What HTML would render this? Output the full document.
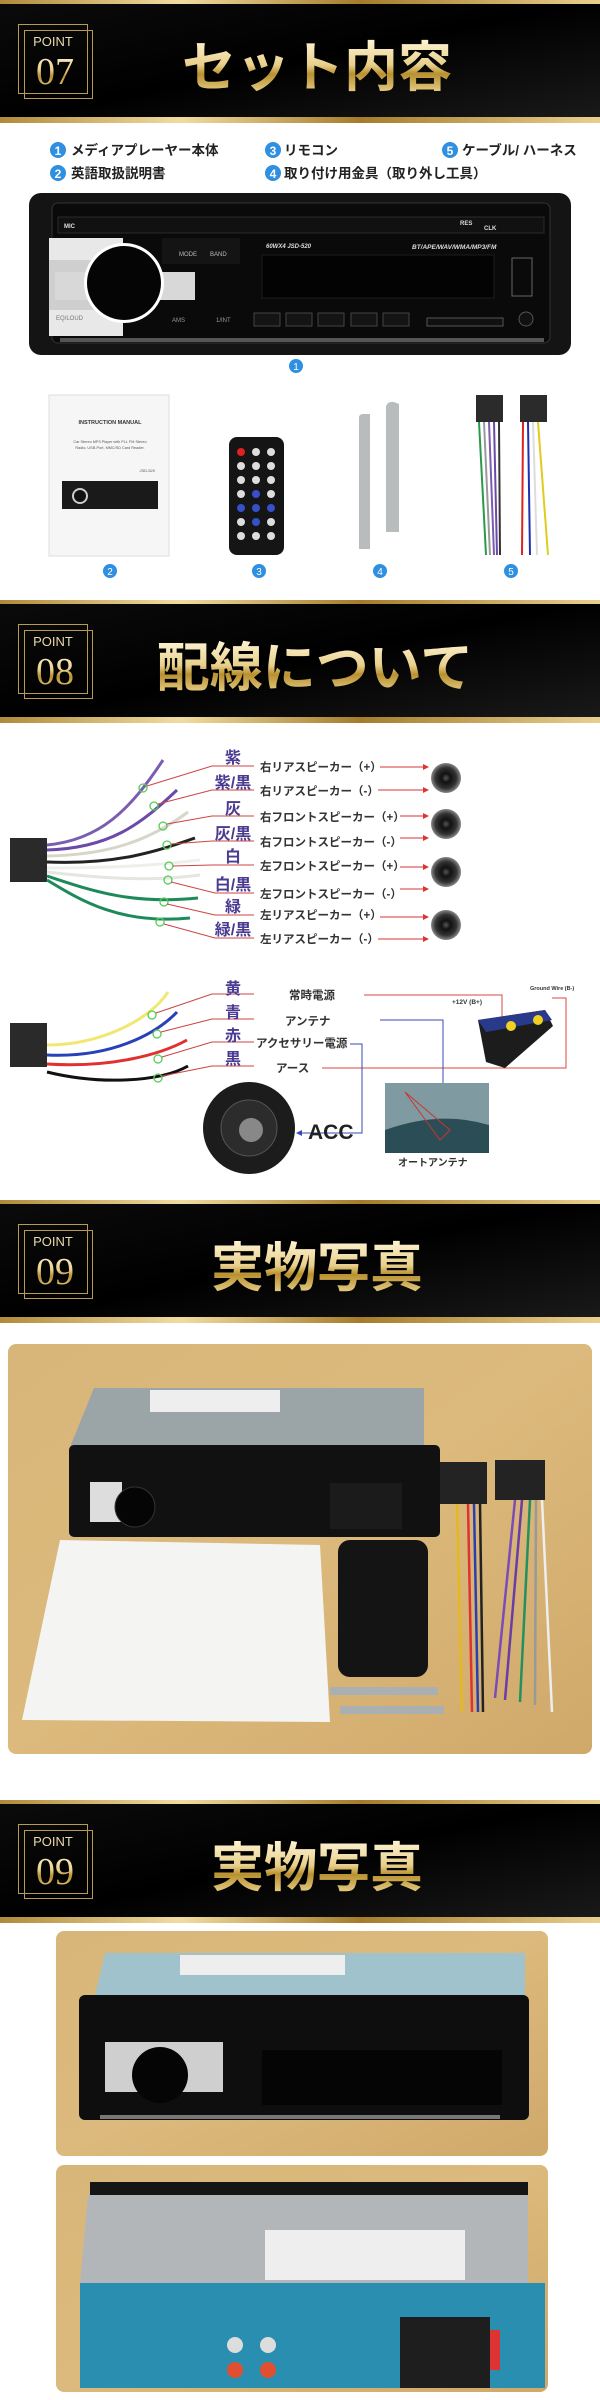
<!DOCTYPE html>
<html><head><meta charset="utf-8"><style>
html,body{margin:0;padding:0;background:#fff}
svg{display:block}
text{font-family:"Liberation Sans","Noto Sans CJK JP",sans-serif}
.jp{font-family:"Liberation Sans","Noto Sans CJK JP",sans-serif;font-weight:700}
</style></head><body>
<svg width="600" height="2400" viewBox="0 0 600 2400" xmlns="http://www.w3.org/2000/svg">
<defs>
<linearGradient id="gold" x1="0" y1="0" x2="0" y2="1">
<stop offset="0" stop-color="#fff6d8"/><stop offset="0.45" stop-color="#e8cf8a"/><stop offset="0.6" stop-color="#b8902f"/><stop offset="1" stop-color="#f3df9f"/></linearGradient>
<linearGradient id="goldh" x1="0" y1="0" x2="1" y2="0">
<stop offset="0" stop-color="#b08a3a"/><stop offset="0.3" stop-color="#f1dca0"/><stop offset="0.6" stop-color="#a57c2c"/><stop offset="1" stop-color="#e9cf8e"/></linearGradient>
<linearGradient id="hdr" x1="0" y1="0" x2="1" y2="1">
<stop offset="0" stop-color="#0b0b0b"/><stop offset="0.5" stop-color="#000"/><stop offset="1" stop-color="#1a1a1a"/></linearGradient>
<linearGradient id="wood" x1="0" y1="0" x2="1" y2="1">
<stop offset="0" stop-color="#d8b679"/><stop offset="0.5" stop-color="#dcb97c"/><stop offset="1" stop-color="#cfa96a"/></linearGradient>
<radialGradient id="spk"><stop offset="0" stop-color="#555"/><stop offset="0.3" stop-color="#111"/><stop offset="0.7" stop-color="#333"/><stop offset="1" stop-color="#888"/></radialGradient>
<marker id="ar" markerWidth="6" markerHeight="6" refX="5" refY="3" orient="auto"><path d="M0,0 L6,3 L0,6 z" fill="#d33"/></marker>
<marker id="ab" markerWidth="6" markerHeight="6" refX="5" refY="3" orient="auto"><path d="M0,0 L6,3 L0,6 z" fill="#3848b8"/></marker>
<g id="hd">
<rect x="0" y="0" width="600" height="122" fill="url(#hdr)"/>
<rect x="0" y="0" width="600" height="4" fill="url(#goldh)"/>
<rect x="0" y="117" width="600" height="6" fill="url(#goldh)"/>
<rect x="18.5" y="24.5" width="69" height="69" fill="none" stroke="#b89a55" stroke-width="1"/>
<rect x="24.5" y="30.5" width="68" height="68" fill="none" stroke="#b89a55" stroke-width="1"/>
<text x="53" y="46" font-size="13" fill="#e8d9aa" text-anchor="middle" style="font-family:'Liberation Sans',sans-serif">POINT</text>
</g>
</defs>

<!-- ===== Section 1 ===== -->
<use href="#hd" x="0" y="0"/>
<text x="55" y="84" font-size="38" fill="url(#gold)" text-anchor="middle" style="font-family:'Liberation Serif',serif">07</text>
<text x="317" y="86" font-size="54" font-weight="900" fill="url(#gold)" text-anchor="middle" class="jp">セット内容</text>

<g class="jp" font-size="13.5" fill="#222" font-weight="700">
<circle cx="58" cy="150" r="8" fill="#2f8fe0"/><text x="58" y="155" font-size="12" fill="#fff" text-anchor="middle">1</text>
<text x="71" y="155">メディアプレーヤー本体</text>
<circle cx="58" cy="173" r="8" fill="#2f8fe0"/><text x="58" y="178" font-size="12" fill="#fff" text-anchor="middle">2</text>
<text x="71" y="178">英語取扱説明書</text>
<circle cx="273" cy="150" r="8" fill="#2f8fe0"/><text x="273" y="155" font-size="12" fill="#fff" text-anchor="middle">3</text>
<text x="284" y="155">リモコン</text>
<circle cx="273" cy="173" r="8" fill="#2f8fe0"/><text x="273" y="178" font-size="12" fill="#fff" text-anchor="middle">4</text>
<text x="284" y="178">取り付け用金具（取り外し工具）</text>
<circle cx="450" cy="150" r="8" fill="#2f8fe0"/><text x="450" y="155" font-size="12" fill="#fff" text-anchor="middle">5</text>
<text x="462" y="155">ケーブル/ ハーネス</text>
</g>

<!-- radio front -->
<rect x="29" y="193" width="542" height="162" rx="12" fill="#141414"/>
<rect x="52" y="203" width="498" height="140" rx="6" fill="#0a0a0a" stroke="#333"/>
<rect x="58" y="217" width="486" height="16" fill="#111" stroke="#2a2a2a"/>
<text x="64" y="228" font-size="6" fill="#ddd" font-weight="700">MIC</text>
<text x="460" y="225" font-size="6" fill="#ddd" font-weight="700">RES</text>
<text x="484" y="230" font-size="6" fill="#ddd" font-weight="700">CLK</text>
<path d="M49,238 h74 v98 h-74 z" fill="#e8e8e8"/>
<path d="M49,260 h74 v50 h-74 z" fill="#cfcfcf"/>
<path d="M55,272 h140 v28 h-140 z" fill="#d8d8d8"/>
<circle cx="124" cy="283" r="40" fill="#fff"/>
<circle cx="124" cy="283" r="37" fill="#050505"/>
<rect x="162" y="238" width="78" height="26" fill="#141414"/>
<text x="179" y="256" font-size="6" fill="#bbb">MODE</text>
<text x="210" y="256" font-size="6" fill="#bbb">BAND</text>
<text x="56" y="320" font-size="6" fill="#777">EQ/LOUD</text>
<text x="172" y="322" font-size="6" fill="#999">AMS</text>
<text x="216" y="322" font-size="6" fill="#999">1/INT</text>
<text x="266" y="248" font-size="6" fill="#ddd" font-style="italic" font-weight="700">60WX4  JSD-520</text>
<text x="412" y="249" font-size="6.5" fill="#ddd" font-style="italic" font-weight="700">BT/APE/WAV/WMA/MP3/FM</text>
<rect x="262" y="255" width="232" height="43" fill="#030303" stroke="#1c1c1c"/>
<rect x="512" y="258" width="20" height="38" fill="#0a0a0a" stroke="#666"/>
<circle cx="526" cy="319" r="7" fill="#111" stroke="#555"/>
<g fill="#141414" stroke="#444">
<rect x="254" y="313" width="26" height="13"/><rect x="286" y="313" width="26" height="13"/><rect x="318" y="313" width="26" height="13"/><rect x="351" y="313" width="26" height="13"/><rect x="383" y="313" width="26" height="13"/></g>
<rect x="427" y="318" width="76" height="8" fill="#111" stroke="#555"/>
<rect x="60" y="338" width="484" height="4" fill="#555"/>
<circle cx="296" cy="366" r="7" fill="#2f8fe0"/><text x="296" y="370" font-size="10" fill="#fff" text-anchor="middle">1</text>

<!-- item 2 manual -->
<rect x="49" y="395" width="120" height="161" fill="#f6f6f6" stroke="#ddd"/>
<text x="110" y="424" font-size="5.5" font-weight="700" fill="#333" text-anchor="middle">INSTRUCTION MANUAL</text>
<text x="110" y="443" font-size="3.8" fill="#555" text-anchor="middle">Car Stereo MP3 Player with PLL FM Stereo</text>
<text x="110" y="449" font-size="3.8" fill="#555" text-anchor="middle">Radio, USB-Port, MMC/SD Card Reader.</text>
<text x="155" y="472" font-size="4" fill="#555" text-anchor="end">JSD-520</text>
<rect x="62" y="481" width="96" height="28" fill="#1a1a1a"/>
<circle cx="80" cy="496" r="8" fill="#ccc"/><circle cx="80" cy="496" r="6" fill="#111"/>
<circle cx="110" cy="571" r="7" fill="#2f8fe0"/><text x="110" y="575" font-size="10" fill="#fff" text-anchor="middle">2</text>
<!-- item 3 remote -->
<rect x="229" y="437" width="55" height="118" rx="8" fill="#151515"/>
<g fill="#ddd">
<circle cx="241" cy="452" r="4" fill="#d22"/><circle cx="256" cy="452" r="4"/><circle cx="271" cy="452" r="4"/>
<circle cx="241" cy="466" r="4"/><circle cx="256" cy="466" r="4"/><circle cx="271" cy="466" r="4"/>
<circle cx="241" cy="480" r="4"/><circle cx="256" cy="480" r="4"/><circle cx="271" cy="480" r="4"/>
<circle cx="241" cy="494" r="4"/><circle cx="256" cy="494" r="4" fill="#3550c8"/><circle cx="271" cy="494" r="4"/>
<circle cx="241" cy="508" r="4" fill="#3550c8"/><circle cx="256" cy="508" r="4" fill="#3550c8"/><circle cx="271" cy="508" r="4" fill="#3550c8"/>
<circle cx="241" cy="522" r="4"/><circle cx="256" cy="522" r="4" fill="#3550c8"/><circle cx="271" cy="522" r="4"/>
<circle cx="241" cy="536" r="4"/><circle cx="256" cy="536" r="4"/><circle cx="271" cy="536" r="4"/></g>
<circle cx="259" cy="571" r="7" fill="#2f8fe0"/><text x="259" y="575" font-size="10" fill="#fff" text-anchor="middle">3</text>
<!-- item 4 brackets -->
<path d="M359,418 q0,-4 4,-4 h7 v135 h-11 z" fill="#b9bcbd"/>
<path d="M386,406 q2,-5 8,-4 l5,2 v128 h-13 z" fill="#b9bcbd"/>
<circle cx="380" cy="571" r="7" fill="#2f8fe0"/><text x="380" y="575" font-size="10" fill="#fff" text-anchor="middle">4</text>
<!-- item 5 harness -->
<rect x="476" y="395" width="27" height="27" fill="#2b2b2b"/>
<rect x="520" y="395" width="27" height="27" fill="#2b2b2b"/>
<g fill="none" stroke-width="2">
<path d="M479,422 L486,555" stroke="#2a9a4a"/><path d="M484,422 L490,555" stroke="#9a9a9a"/><path d="M489,422 L494,555" stroke="#7a5cb0"/><path d="M494,422 L497,555" stroke="#6b4aa8"/><path d="M499,422 L500,555" stroke="#333"/>
<path d="M523,422 L522,555" stroke="#d22"/><path d="M528,422 L530,555" stroke="#2030b0"/><path d="M533,422 L537,555" stroke="#ddd"/><path d="M538,422 L548,555" stroke="#e0cc20"/></g>
<circle cx="511" cy="571" r="7" fill="#2f8fe0"/><text x="511" y="575" font-size="10" fill="#fff" text-anchor="middle">5</text>

<!-- ===== Section 2 ===== -->
<use href="#hd" x="0" y="600"/>
<text x="55" y="684" font-size="38" fill="url(#gold)" text-anchor="middle" style="font-family:'Liberation Serif',serif">08</text>
<text x="315" y="686" font-size="53" font-weight="900" fill="url(#gold)" text-anchor="middle" class="jp">配線について</text>

<!-- connector & wires -->
<rect x="10" y="838" width="37" height="44" fill="#2a2a2a"/>
<g fill="none" stroke-width="3">
<path d="M47,845 C100,840 130,810 163,760" stroke="#7a5cb0"/>
<path d="M47,850 C110,848 140,825 177,790" stroke="#6b4aa8"/>
<path d="M47,856 C110,855 150,840 188,812" stroke="#d8d6c8"/>
<path d="M47,862 C120,865 160,850 195,838" stroke="#222"/>
<path d="M47,868 C110,868 150,866 200,860" stroke="#eeeeea"/>
<path d="M47,872 C100,878 150,882 200,875" stroke="#e6e6e0"/>
<path d="M47,876 C90,890 130,905 198,898" stroke="#1e8a5a"/>
<path d="M47,880 C80,900 120,925 190,918" stroke="#1e8a5a"/>
</g>
<g fill="none" stroke="#5c5" stroke-width="1.3">
<circle cx="143" cy="788" r="4"/><circle cx="154" cy="806" r="4"/><circle cx="163" cy="826" r="4"/><circle cx="167" cy="845" r="4"/><circle cx="169" cy="866" r="4"/><circle cx="168" cy="880" r="4"/><circle cx="164" cy="902" r="4"/><circle cx="160" cy="922" r="4"/></g>
<g fill="none" stroke="#c44" stroke-width="1">
<path d="M147,786 L212,766 H254"/><path d="M158,804 L212,790 H254"/><path d="M167,824 L212,816 H254"/><path d="M171,844 L212,841 H254"/><path d="M173,866 L212,865 H254"/><path d="M171,882 L215,893 H254"/><path d="M167,904 L215,915 H254"/><path d="M164,924 L215,938 H254"/></g>
<g class="jp" font-size="16" fill="#4a3a90" text-anchor="middle">
<text x="233" y="763">紫</text><text x="233" y="788">紫/黒</text><text x="233" y="814">灰</text><text x="233" y="839">灰/黒</text><text x="233" y="862">白</text><text x="233" y="890">白/黒</text><text x="233" y="912">緑</text><text x="233" y="935">緑/黒</text></g>
<g class="jp" font-size="11.5" fill="#333">
<text x="260" y="771">右リアスピーカー（+）</text><text x="260" y="795">右リアスピーカー（-）</text><text x="260" y="821">右フロントスピーカー（+）</text><text x="260" y="846">右フロントスピーカー（-）</text><text x="260" y="870">左フロントスピーカー（+）</text><text x="260" y="898">左フロントスピーカー（-）</text><text x="260" y="919">左リアスピーカー（+）</text><text x="260" y="943">左リアスピーカー（-）</text></g>
<g stroke="#d33" stroke-width="1" marker-end="url(#ar)">
<line x1="380" y1="767" x2="428" y2="767"/><line x1="378" y1="790" x2="428" y2="790"/><line x1="400" y1="816" x2="428" y2="816"/><line x1="400" y1="838" x2="428" y2="838"/><line x1="400" y1="867" x2="428" y2="867"/><line x1="400" y1="889" x2="428" y2="889"/><line x1="380" y1="917" x2="428" y2="917"/><line x1="378" y1="939" x2="428" y2="939"/></g>
<g><circle cx="446" cy="778" r="15" fill="url(#spk)"/><circle cx="446" cy="824" r="15" fill="url(#spk)"/><circle cx="446" cy="872" r="15" fill="url(#spk)"/><circle cx="446" cy="925" r="15" fill="url(#spk)"/></g>

<!-- lower wiring -->
<rect x="10" y="1023" width="37" height="44" fill="#2a2a2a"/>
<g fill="none" stroke-width="3">
<path d="M47,1045 C100,1045 150,1020 168,992" stroke="#f0e870"/>
<path d="M47,1055 C110,1058 155,1035 177,1012" stroke="#2840b8"/>
<path d="M47,1064 C110,1068 160,1055 187,1040" stroke="#e03030"/>
<path d="M47,1072 C100,1085 160,1082 188,1066" stroke="#111"/></g>
<g fill="none" stroke="#5c5" stroke-width="1.3"><circle cx="152" cy="1015" r="4"/><circle cx="157" cy="1034" r="4"/><circle cx="158" cy="1059" r="4"/><circle cx="158" cy="1078" r="4"/></g>
<g fill="none" stroke="#c44" stroke-width="1"><path d="M156,1013 L212,994 H254"/><path d="M161,1032 L212,1019 H254"/><path d="M162,1057 L212,1042 H254"/><path d="M162,1076 L212,1066 H254"/></g>
<g class="jp" font-size="16" fill="#4a3a90" text-anchor="middle"><text x="233" y="994">黄</text><text x="233" y="1018">青</text><text x="233" y="1041">赤</text><text x="233" y="1064">黒</text></g>
<g class="jp" font-size="11.5" fill="#333"><text x="289" y="999">常時電源</text><text x="285" y="1025">アンテナ</text><text x="256" y="1047">アクセサリー電源</text><text x="276" y="1072">アース</text></g>
<path d="M364,995 H502 V1020" fill="none" stroke="#d44" stroke-width="1"/>
<path d="M322,1068 H566 V998 H552" fill="none" stroke="#d44" stroke-width="1"/>
<path d="M380,1020 H443 V1116" fill="none" stroke="#3848b8" stroke-width="1" marker-end="url(#ab)"/>
<path d="M350,1044 H362 V1133 H297" fill="none" stroke="#3848b8" stroke-width="1" marker-end="url(#ab)"/>
<text x="452" y="1004" font-size="6.5" font-weight="700" fill="#333">+12V (B+)</text>
<text x="530" y="990" font-size="5.5" font-weight="700" fill="#333">Ground Wire (B-)</text>
<path d="M478,1020 L545,1010 L553,1026 L505,1068 L486,1062 z" fill="#1c1c1c"/>
<path d="M478,1020 L545,1010 L552,1020 L486,1032 z" fill="#2a3a8a"/>
<circle cx="511" cy="1026" r="5" fill="#f0d020"/><circle cx="538" cy="1020" r="5" fill="#f0d020"/>
<rect x="385" y="1083" width="104" height="70" fill="#7f9aa0"/>
<path d="M385,1130 Q440,1110 489,1125 V1153 H385 z" fill="#2b4d55"/>
<path d="M405,1092 L450,1130 L440,1140 z" fill="none" stroke="#c33" stroke-width="1"/>
<text x="398" y="1166" class="jp" font-size="10" fill="#333">オートアンテナ</text>
<circle cx="249" cy="1128" r="46" fill="#1c1c1c"/>
<circle cx="249" cy="1128" r="28" fill="#2c2c2c" stroke="#555"/>
<circle cx="251" cy="1130" r="12" fill="#888"/>
<text x="308" y="1139" font-size="21" font-weight="700" fill="#222">ACC</text>

<!-- ===== Section 3 ===== -->
<use href="#hd" x="0" y="1200"/>
<text x="55" y="1284" font-size="38" fill="url(#gold)" text-anchor="middle" style="font-family:'Liberation Serif',serif">09</text>
<text x="317" y="1286" font-size="53" font-weight="900" fill="url(#gold)" text-anchor="middle" class="jp">実物写真</text>
<rect x="8" y="1344" width="584" height="410" rx="8" fill="url(#wood)"/>
<path d="M94,1388 H424 V1447 H70 Z" fill="#9ba5a8"/>
<rect x="150" y="1390" width="130" height="22" fill="#eee"/>
<rect x="69" y="1445" width="371" height="92" rx="5" fill="#111"/>
<rect x="90" y="1482" width="32" height="40" fill="#ddd"/>
<circle cx="135" cy="1507" r="20" fill="#050505" stroke="#333"/>
<rect x="330" y="1483" width="72" height="46" fill="#1b1b1b"/>
<path d="M60,1540 L320,1545 L330,1722 L22,1720 z" fill="#f4f4f2"/>
<rect x="338" y="1540" width="90" height="137" rx="12" fill="#141414"/>
<rect x="440" y="1462" width="47" height="42" fill="#232323"/>
<rect x="495" y="1460" width="50" height="40" fill="#232323"/>
<g fill="none" stroke-width="2.5">
<path d="M457,1504 L462,1712" stroke="#e6b820"/><path d="M468,1504 L472,1712" stroke="#d33"/><path d="M474,1504 L478,1712" stroke="#2c3fb0"/><path d="M480,1504 L483,1712" stroke="#222"/>
<path d="M515,1500 L495,1698" stroke="#7b4cb8"/><path d="M522,1500 L505,1700" stroke="#6a3ca8"/><path d="M530,1500 L520,1702" stroke="#239060"/><path d="M536,1500 L535,1705" stroke="#999"/><path d="M542,1500 L552,1712" stroke="#eee"/></g>
<rect x="330" y="1687" width="108" height="8" fill="#aab0b2"/>
<rect x="340" y="1706" width="104" height="8" fill="#aab0b2"/>

<!-- ===== Section 4 ===== -->
<use href="#hd" x="0" y="1800"/>
<text x="55" y="1884" font-size="38" fill="url(#gold)" text-anchor="middle" style="font-family:'Liberation Serif',serif">09</text>
<text x="317" y="1886" font-size="53" font-weight="900" fill="url(#gold)" text-anchor="middle" class="jp">実物写真</text>
<rect x="56" y="1931" width="492" height="225" rx="8" fill="url(#wood)"/>
<path d="M105,1953 H525 V1996 H95 Z" fill="#9fc2cc"/>
<rect x="180" y="1955" width="165" height="20" fill="#eee"/>
<rect x="79" y="1995" width="450" height="125" rx="6" fill="#0e0e0e"/>
<rect x="105" y="2042" width="118" height="50" fill="#cfcfcf"/>
<circle cx="160" cy="2075" r="28" fill="#050505"/>
<rect x="262" y="2050" width="240" height="55" fill="#050505"/>
<rect x="100" y="2115" width="400" height="4" fill="#777"/>
<rect x="56" y="2165" width="492" height="227" rx="8" fill="url(#wood)"/>
<rect x="90" y="2182" width="438" height="14" fill="#151515"/>
<path d="M88,2195 H528 V2283 H80 Z" fill="#b3b6b8"/>
<rect x="265" y="2230" width="200" height="50" fill="#eee"/>
<rect x="80" y="2283" width="465" height="105" fill="#2a8eb0"/>
<circle cx="235" cy="2345" r="8" fill="#ddd"/><circle cx="268" cy="2345" r="8" fill="#ddd"/>
<circle cx="235" cy="2370" r="8" fill="#e05030"/><circle cx="268" cy="2370" r="8" fill="#e05030"/>
<rect x="400" y="2317" width="90" height="71" fill="#1e1e1e"/>
<rect x="490" y="2330" width="10" height="40" fill="#d33"/>
</svg>
</body></html>
